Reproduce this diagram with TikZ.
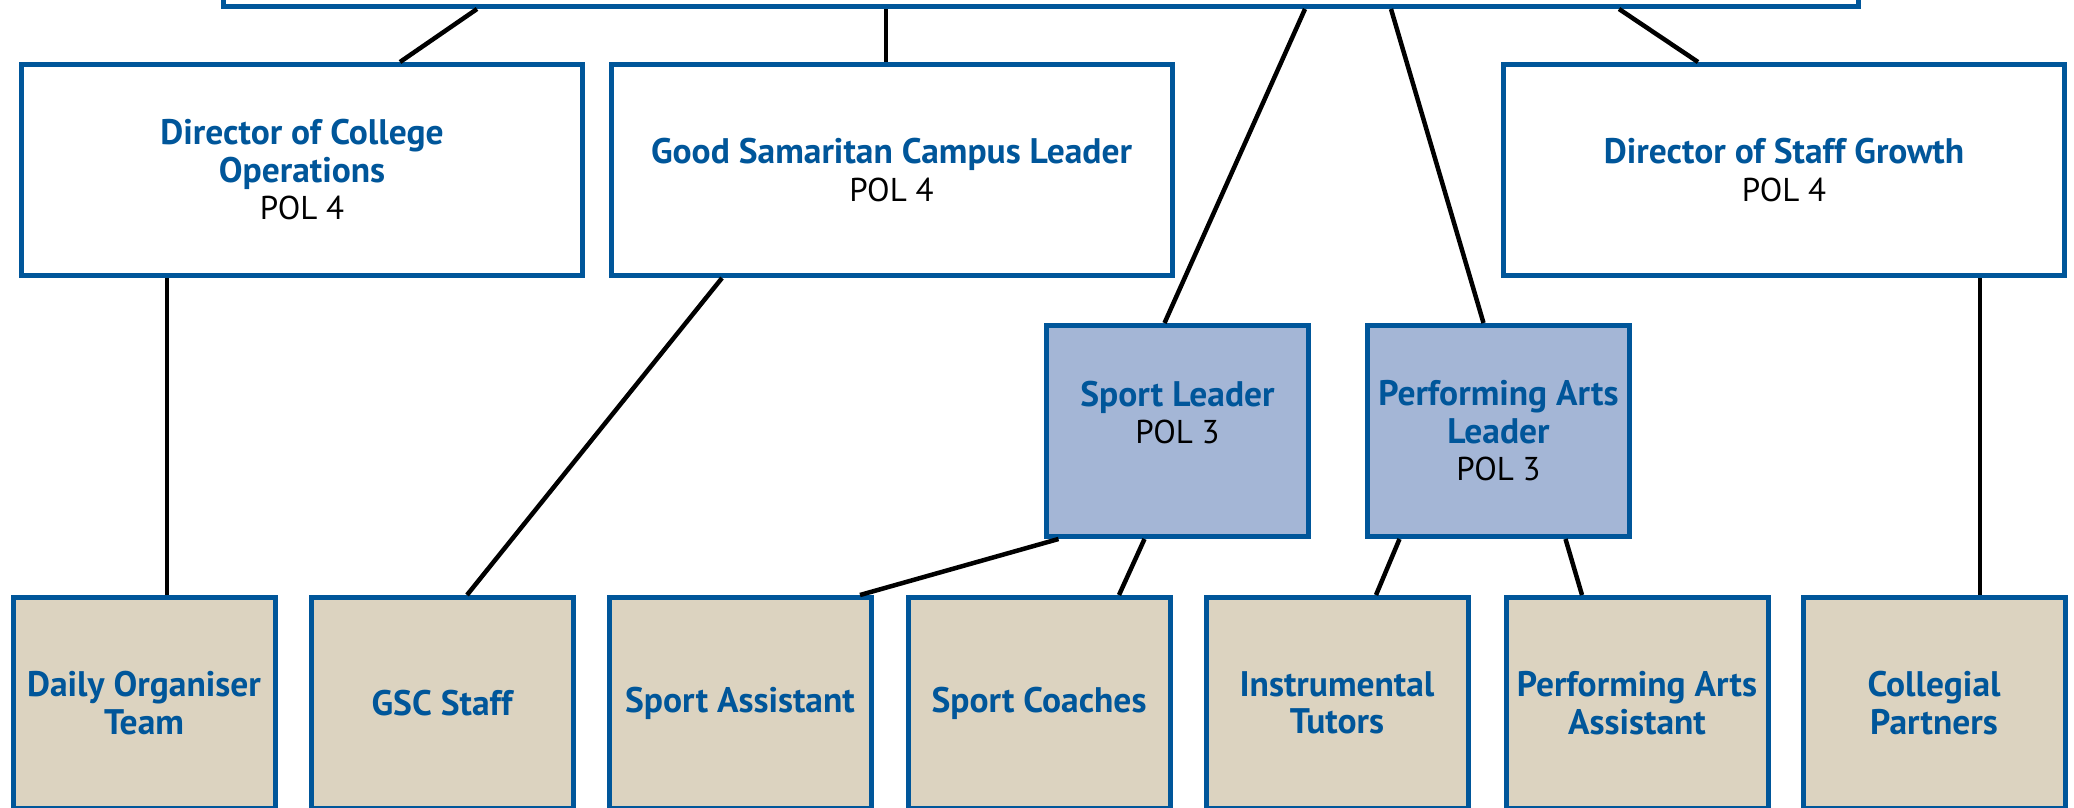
\documentclass[tikz,border=0pt]{standalone}
\usepackage{fontspec}
\setmainfont{PT Sans}
\definecolor{polblue}{RGB}{0,86,154}
\definecolor{leadfill}{RGB}{164,182,214}
\definecolor{teamfill}{RGB}{220,211,192}
\newcommand{\pol}[1]{\\{\fontsize{33}{37.5}\selectfont\color{black}\mdseries POL #1}}

\begin{document}
\begin{tikzpicture}[x=1pt, y=-1pt,
    every node/.style={font=\fontsize{35.5}{37.5}\selectfont\bfseries, text=polblue, align=center},
    role/.style={draw=polblue, line width=5pt, fill=white, minimum width=561pt, minimum height=211pt, inner sep=0pt},
    lead/.style={role, fill=leadfill, minimum width=262pt},
    team/.style={role, fill=teamfill, minimum width=262pt},
    link/.style={line width=4.5pt}]
    \useasboundingbox (0, 0) rectangle (2074, 807);

    \node[role, minimum width=1635pt, minimum height=300pt] (head) at (1041, -143.5) {};

    \node[role] (dco) at (302, 170) {Director of College\\Operations\pol{4}};
    \node[role] (gscl) at (891.5, 170) {Good Samaritan Campus Leader\pol{4}};
    \node[role] (dsg) at (1784, 170) {Director of Staff Growth\pol{4}};

    \node[lead] (sport) at (1177.5, 431) {Sport Leader\pol{3}\\~};
    \node[lead] (pal) at (1498.5, 431) {Performing Arts\\Leader\pol{3}};

    \node[team] (daily) at (144, 703) {Daily Organiser\\Team};
    \node[team] (gscstaff) at (442, 703) {GSC Staff};
    \node[team] (sassist) at (740, 703) {Sport Assistant};
    \node[team] (coaches) at (1039, 703) {Sport Coaches};
    \node[team] (tutors) at (1337, 703) {Instrumental\\Tutors};
    \node[team] (paassist) at (1637, 703) {Performing Arts\\Assistant};
    \node[team] (partners) at (1934, 703) {Collegial\\Partners};

    \draw[link] ([xshift=-564pt]head.south) -- ([xshift=98pt]dco.north);
    \draw[link] ([xshift=-155pt]head.south) -- ([xshift=-5.5pt]gscl.north);
    \draw[link] ([xshift=264pt]head.south) -- ([xshift=-13pt]sport.north);
    \draw[link] ([xshift=350pt]head.south) -- ([xshift=-15pt]pal.north);
    \draw[link] ([xshift=578pt]head.south) -- ([xshift=-86pt]dsg.north);
    \draw[link] ([xshift=-135pt]dco.south) -- ([xshift=23pt]daily.north);
    \draw[link] ([xshift=-169.5pt]gscl.south) -- ([xshift=25pt]gscstaff.north);
    \draw[link] ([xshift=-119pt]sport.south) -- ([xshift=120pt]sassist.north);
    \draw[link] ([xshift=-33pt]sport.south) -- ([xshift=80pt]coaches.north);
    \draw[link] ([xshift=-99pt]pal.south) -- ([xshift=39pt]tutors.north);
    \draw[link] ([xshift=67pt]pal.south) -- ([xshift=-55pt]paassist.north);
    \draw[link] ([xshift=196pt]dsg.south) -- ([xshift=46pt]partners.north);
\end{tikzpicture}
\end{document}
